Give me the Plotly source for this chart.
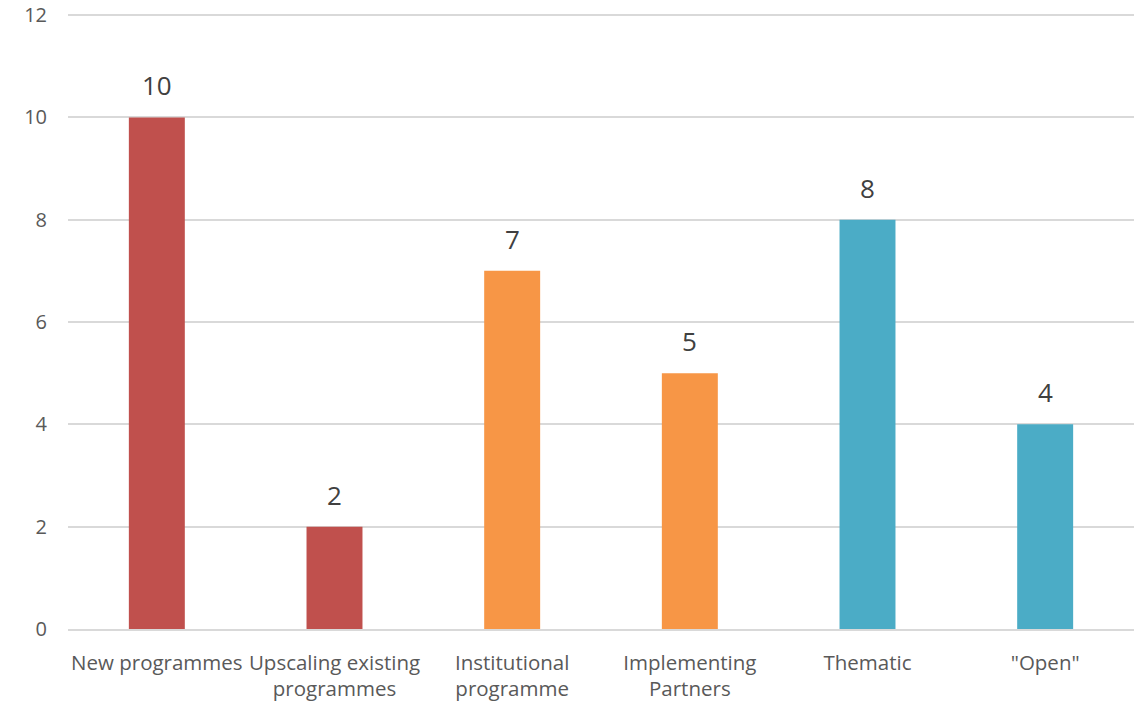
import plotly.graph_objects as go

categories = ["New programmes", "Upscaling existing<br>programmes", "Institutional<br>programme",
              "Implementing<br>Partners", "Thematic", "\"Open\""]
values = [10, 2, 7, 5, 8, 4]
colors = ["#C0504D", "#C0504D", "#F79646", "#F79646", "#4BACC6", "#4BACC6"]
y_ticks = [0, 2, 4, 6, 8, 10, 12]

FONT = "Open Sans"

fig = go.Figure()
fig.add_trace(go.Bar(
    x=categories, y=values,
    marker=dict(color=colors, line=dict(width=0)),
    width=0.315,
    textposition="none",
    hoverinfo="x+y",
))
for c, v in zip(categories, values):
    fig.add_annotation(x=c, y=v, text=str(v), showarrow=False, yanchor="bottom", yshift=12,
                       font=dict(family=FONT, size=26, color="#404040"))

fig.update_layout(
    width=1145, height=705,
    margin=dict(l=68, r=11, t=12, b=76, autoexpand=False),
    plot_bgcolor="white", paper_bgcolor="white",
    showlegend=False,
    font=dict(family=FONT, color="#595959", size=20),
    xaxis=dict(showgrid=False, showline=True, linecolor="#D9D9D9", linewidth=2,
               ticks="", tickangle=0, ticklabelstandoff=14, automargin=False,
               ticklabeloverflow="allow",
               tickfont=dict(size=20.5, color="#595959")),
    yaxis=dict(range=[0, 12.06], tickvals=y_ticks, showgrid=True, gridcolor="#D9D9D9", gridwidth=2,
               zeroline=False, showline=False, ticks="", ticklabelstandoff=20, automargin=False,
               ticklabeloverflow="allow",
               tickfont=dict(size=20, color="#595959")),
)
fig.write_html("out.html", config={"displayModeBar": False},
               post_script="document.body.style.margin='0';document.body.style.overflow='hidden';")
